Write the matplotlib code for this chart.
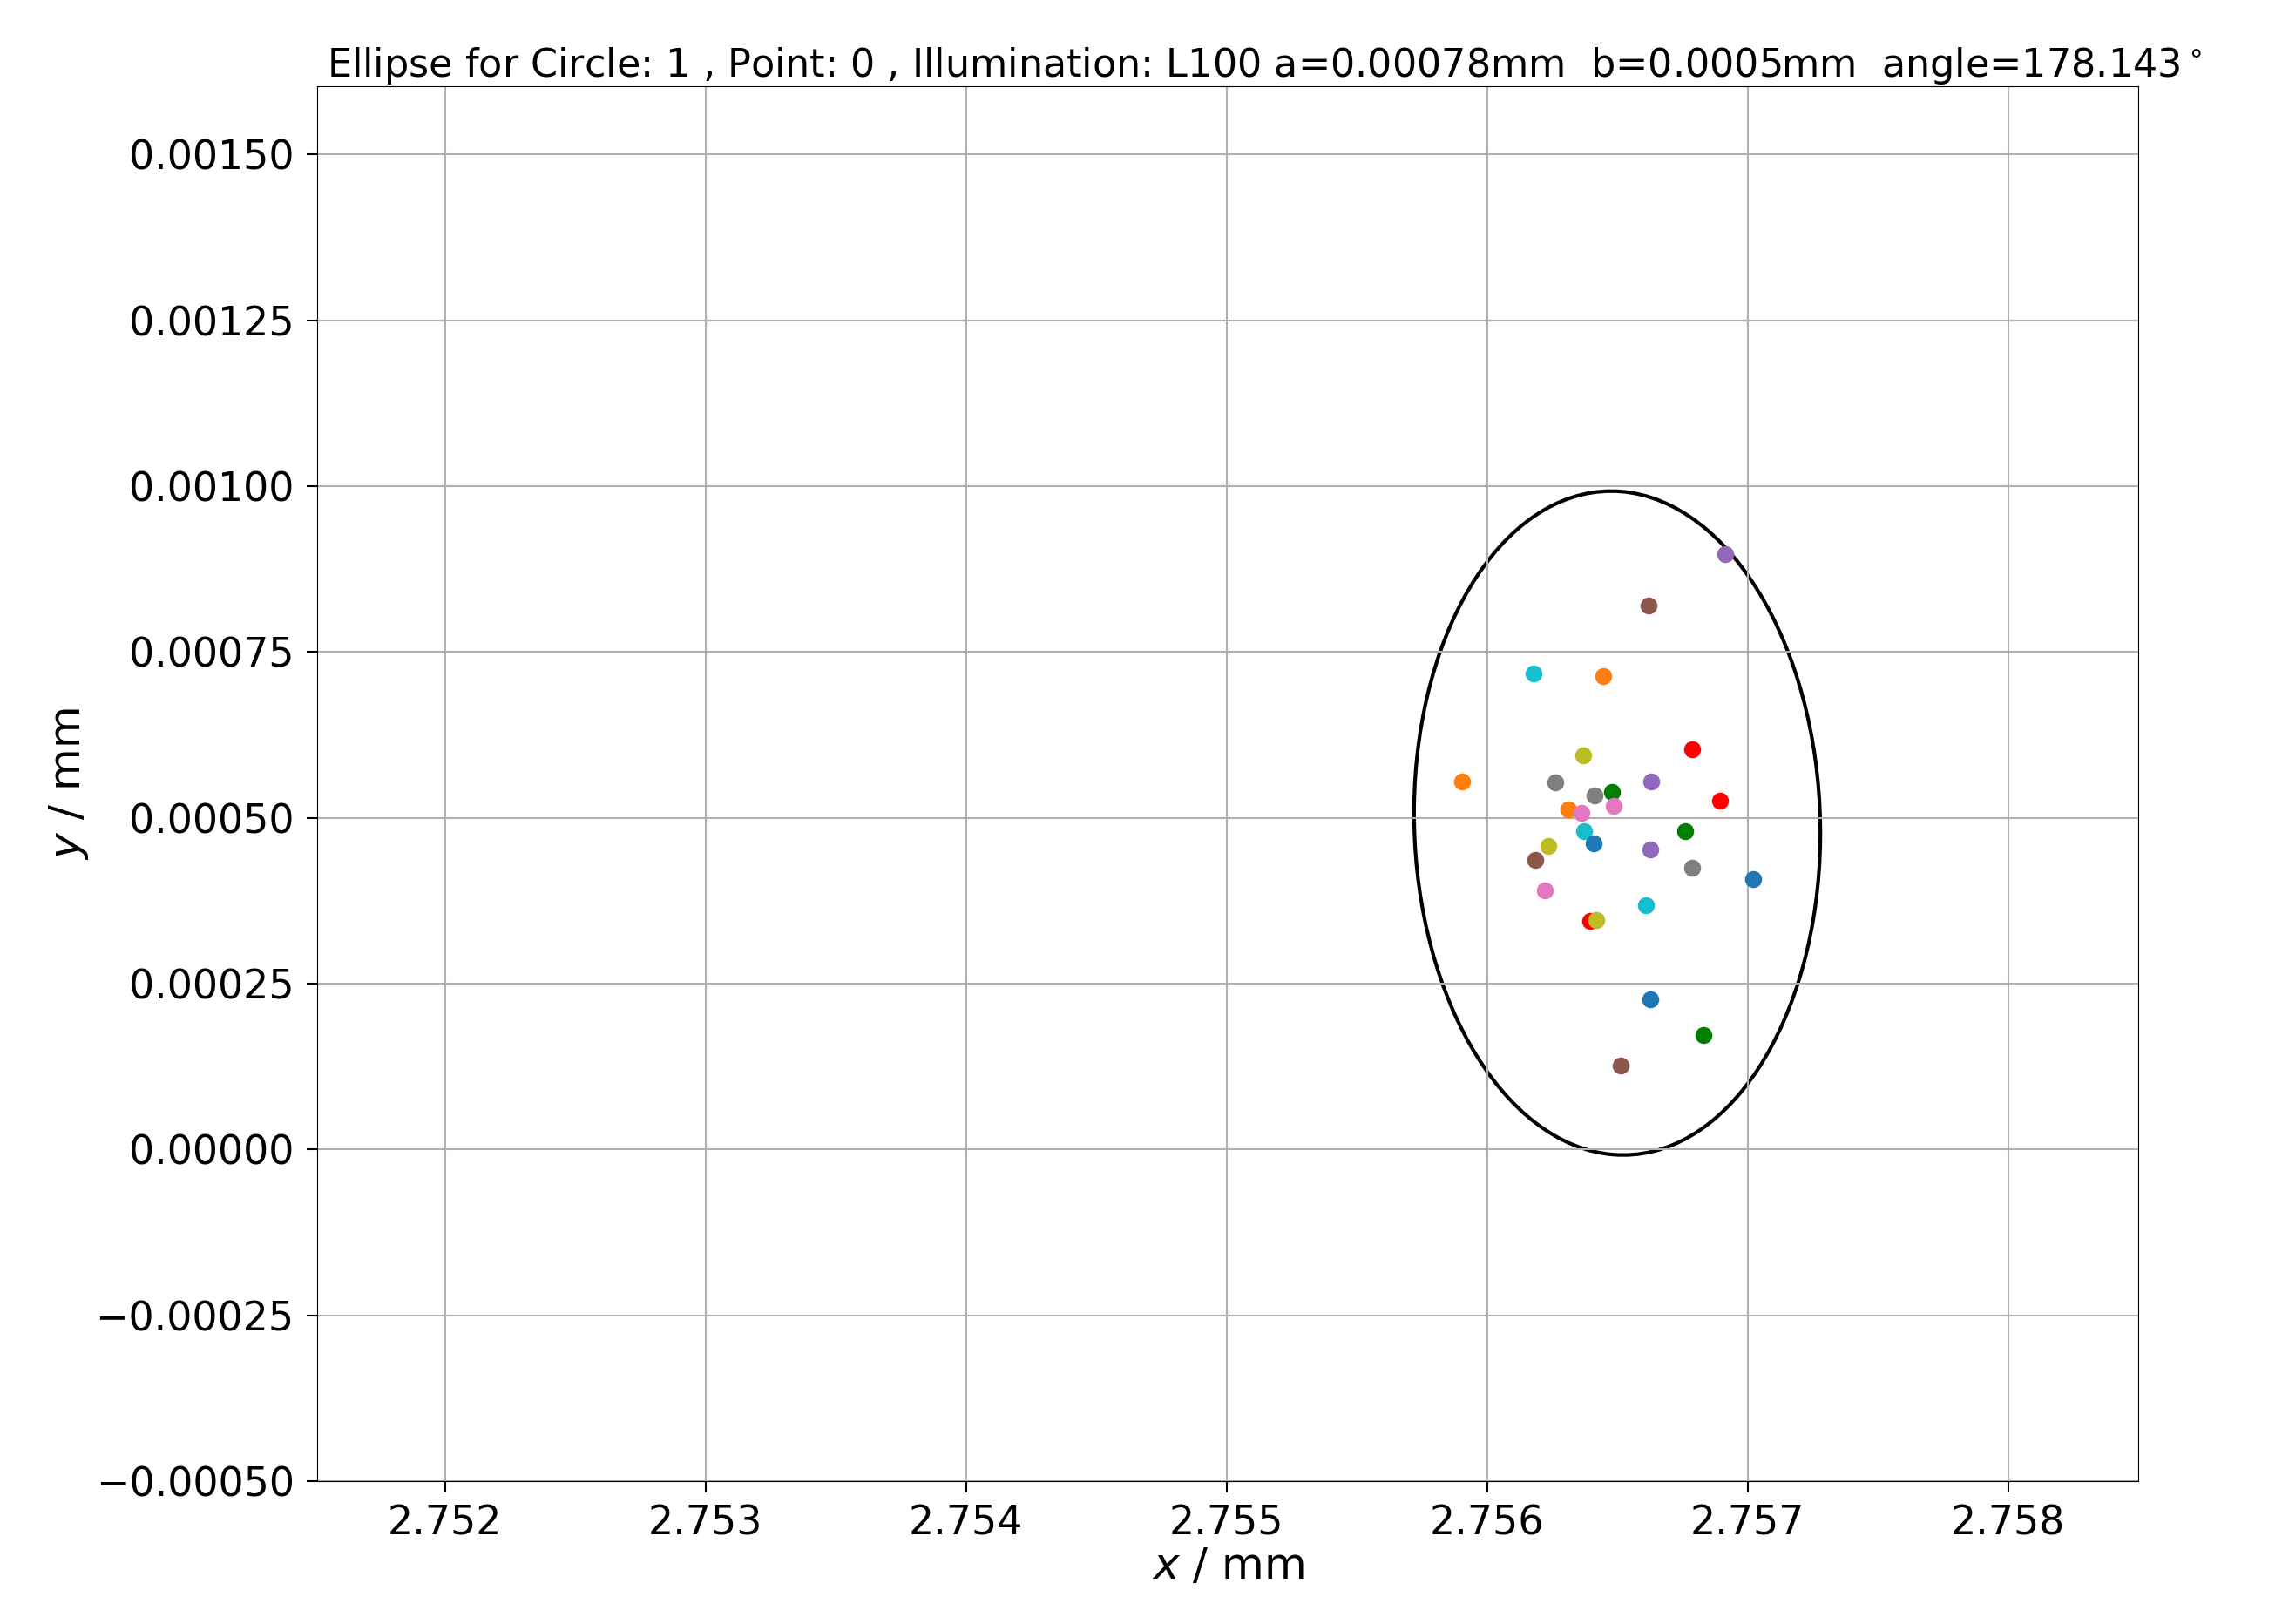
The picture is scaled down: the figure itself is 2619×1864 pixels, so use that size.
import numpy as np
import matplotlib.pyplot as plt
from matplotlib.patches import Ellipse

xs = [2.756916, 2.756620, 2.756179, 2.756447, 2.756369, 2.756788, 2.755905, 2.756263, 2.756631, 2.756480,
      2.756413, 2.756894, 2.756313, 2.756486, 2.756363, 2.756374, 2.756760, 2.756235, 2.756408, 2.756626,
      2.756184, 2.756788, 2.757022, 2.756223, 2.756609, 2.756397, 2.756419, 2.756626, 2.756832, 2.756514]
ys = [0.000897, 0.000820, 0.000717, 0.000713, 0.000594, 0.000603, 0.000555, 0.000553, 0.000555, 0.000539,
      0.000533, 0.000526, 0.000513, 0.000518, 0.000507, 0.000480, 0.000480, 0.000458, 0.000461, 0.000452,
      0.000436, 0.000425, 0.000408, 0.000390, 0.000368, 0.000344, 0.000346, 0.000226, 0.000173, 0.000127]
cols = ['tab:purple', 'tab:brown', 'tab:cyan', 'tab:orange', 'tab:olive', 'red', 'tab:orange', 'tab:gray', 'tab:purple', 'green',
        'tab:gray', 'red', 'tab:orange', 'tab:pink', 'tab:pink', 'tab:cyan', 'green', 'tab:olive', 'tab:blue', 'tab:purple',
        'tab:brown', 'tab:gray', 'tab:blue', 'tab:pink', 'tab:cyan', 'red', 'tab:olive', 'tab:blue', 'green', 'tab:brown']
center = (2.7565, 0.000492)
a, b, angle = 0.00078, 0.0005, 178.143

fig, ax = plt.subplots(figsize=(26.19, 18.64), dpi=100)
fig.subplots_adjust(left=0.139, right=0.937, top=0.947, bottom=0.088)
for x, y, c in zip(xs, ys, cols):
    ax.scatter(x, y, color=c, s=170, zorder=3)
ax.add_patch(Ellipse(center, 2*a, 2*b, angle=angle, fill=False, color='black', lw=3))
ax.set_xlim(2.75151, 2.7585)
ax.set_ylim(-0.0005, 0.001603)
ax.set_xticks(np.arange(2.752, 2.7585, 0.001))
ax.set_yticks(np.arange(-0.0005, 0.00151, 0.00025))
ax.xaxis.set_major_formatter(plt.FormatStrFormatter('%.3f'))
ax.yaxis.set_major_formatter(plt.FuncFormatter(lambda v, p: f"{v:.5f}".replace('-', '\u2212')))
ax.tick_params(labelsize=33, length=9, width=1.5, pad=10)
ax.grid(True, lw=1.5)
ax.set_xlabel('$x$ / mm', fontsize=36, labelpad=2)
ax.set_ylabel('$y$ / mm', fontsize=36)
ax.set_title('Ellipse for Circle: 1 , Point: 0 , Illumination: L100 a=0.00078mm  b=0.0005mm  angle=178.143$^\\circ$', fontsize=32, x=0.52)
fig.savefig('out.png')
